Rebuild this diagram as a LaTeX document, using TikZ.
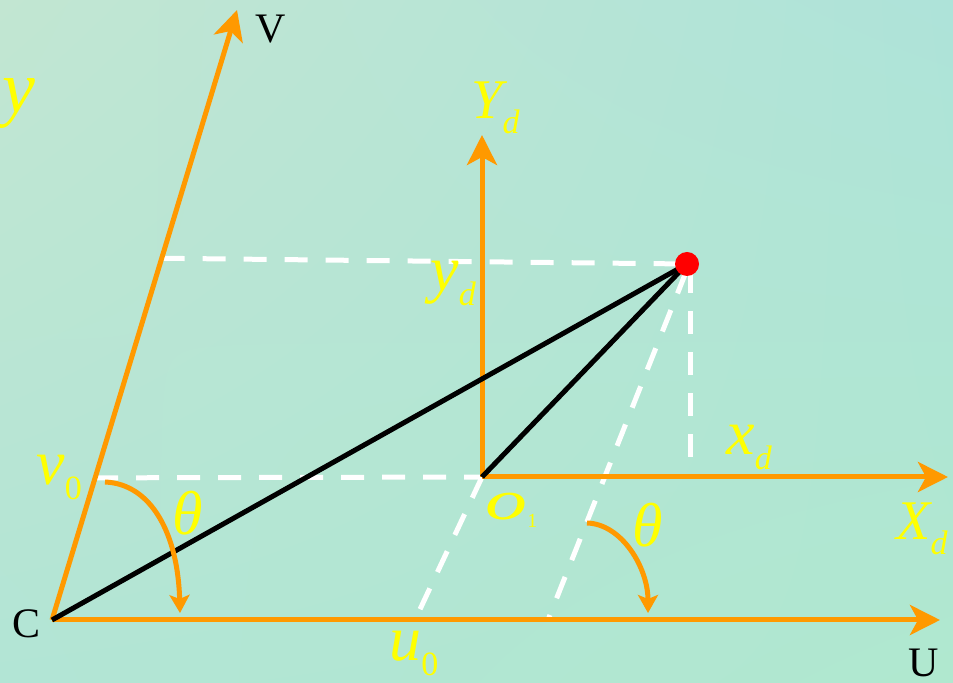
\documentclass[tikz,border=0pt]{standalone}
\usetikzlibrary{arrows.meta,positioning,calc,shadings}
\usepackage{xcolor}
\usepackage{fontspec}
\setmainfont{Liberation Serif}
\definecolor{AxisOrange}{HTML}{FF9900}
\definecolor{TagYellow}{HTML}{FFFF00}
\definecolor{BgTL}{HTML}{C2E6D2}
\definecolor{BgTR}{HTML}{AEE3D9}
\definecolor{BgBL}{HTML}{B2E5D5}
\definecolor{BgBR}{HTML}{B0E8CF}
% yellow italic tag with a lowered subscript
\newcommand{\SubTag}[5]{%
  \node[text=TagYellow,inner sep=0pt,anchor=base west,font=\fontsize{#3}{#3}\selectfont] (#1) at (#2)
    {\itshape #4\raisebox{-7.5pt}{\fontsize{17}{17}\selectfont #5}};%
}
\newcommand{\AxTag}[3]{%
  \node[inner sep=0pt,anchor=base west,font=\fontsize{21}{24}\selectfont] (#1) at (#2) {#3};%
}

\begin{document}
\begin{tikzpicture}[x=0.5pt,y=-0.5pt,
  axis/.style={draw=AxisOrange,line width=2.5pt,-{Stealth[length=15pt,width=15pt,inset=4pt]}},
  turn/.style={draw=AxisOrange,line width=2.5pt,-{Stealth[length=9pt,width=10pt,inset=2pt]}},
  rod/.style={draw=black,line width=2.5pt},
  guide/.style={draw=white,line width=2.5pt,dash pattern=on 11.5pt off 9pt},
  tag/.style={text=TagYellow,inner sep=0pt,anchor=base west}]
\useasboundingbox (0,0) rectangle (953,683);
\shade[upper left=BgTL,upper right=BgTR,lower left=BgBL,lower right=BgBR] (0,0) rectangle (953,683);

% frame U-V at C, frame Xd-Yd at O1
\coordinate (C) at (52,620);
\coordinate (Vtip) at (237,10);
\coordinate (Utip) at (940,620);
\coordinate (O1) at (482,477);
\coordinate (Ydtip) at (482,135);
\coordinate (Xdtip) at (948,477);
\coordinate (P) at (687,264);
\coordinate (v0pt) at ($(C)!0.233!(Vtip)$);
\coordinate (ydpt) at ($(C)!0.593!(Vtip)$);
\coordinate (u0pt) at (415,620);
\coordinate (Qpt) at (548,620);

% dashed guides
\draw[guide] (ydpt) -- (P);
\draw[guide] (v0pt) -- (O1);
\draw[guide] (690,270) -- (690,477);
\draw[guide] (O1) -- (u0pt);
\draw[guide] (686,272) -- (Qpt);

% axes
\draw[axis] (C) -- (Vtip);
\draw[axis] (C) -- (Utip);
\draw[axis] (O1) -- (Ydtip);
\draw[axis] (O1) -- (Xdtip);

% rods to the point
\draw[rod] (C) -- (P);
\draw[rod] (O1) -- (P);
\fill[red] (P) circle[radius=6pt];

% angle arrows
\coordinate (th1s) at (105,482);
\coordinate (th1e) at (180,613);
\coordinate (th2s) at (587,523);
\coordinate (th2e) at (648,613);
\draw[turn] (th1s) .. controls (152,484) and (178,535) .. (th1e);
\draw[turn] (th2s) .. controls (622,524) and (648,568) .. (th2e);

% labels
\AxTag{labV}{255,43}{V}
\AxTag{labU}{908,676}{U}
\AxTag{labC}{12,638}{C}
\node[tag,font=\fontsize{37}{37}\selectfont\itshape] (laby) at (2,113) {y};
\SubTag{labYd}{471,119}{28}{Y}{\itshape d}
\SubTag{labXd}{896,540}{28}{X}{\itshape d}
\SubTag{labyd}{430,291}{32}{y}{\itshape d}
\SubTag{labxd}{726,455}{32}{x}{\itshape d}
\SubTag{labv0}{36,485}{32}{v}{\upshape 0}
\SubTag{labu0}{389,661}{32}{u}{\upshape 0}
\node[tag,font=\fontsize{31}{31}\selectfont\itshape] (labth1) at (172,535) {θ};
\node[tag,font=\fontsize{31}{31}\selectfont\itshape] (labth2) at (632,547) {θ};
\node[tag,font=\fontsize{28}{28}\selectfont] (labO1) at (485,520)
  {\scalebox{1.5}[1]{\itshape o}\raisebox{-4pt}{\fontsize{10}{10}\selectfont 1}};
\end{tikzpicture}
\end{document}
